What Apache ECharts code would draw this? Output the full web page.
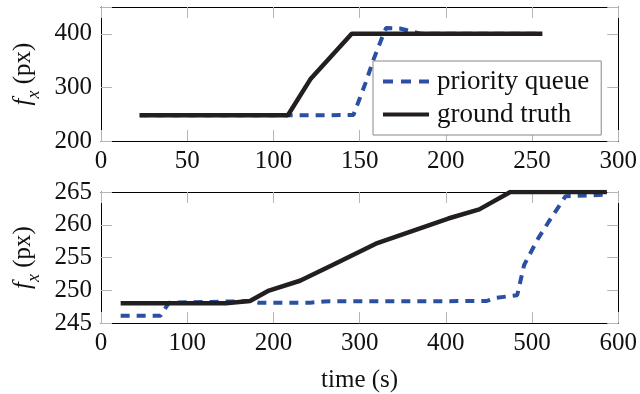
<!DOCTYPE html>
<html>
<head>
<meta charset="utf-8">
<script src="https://cdn.jsdelivr.net/npm/echarts@6/dist/echarts.min.js"></script>
<style>html,body{margin:0;padding:0;background:#fff}#c{width:640px;height:394px}</style>
</head>
<body>
<div id="c"></div>
<script>
// Top panel data [time (s), f_x (px)]
var topPriorityQueue = [[22.4,248],[108,248],[146.4,248.4],[153.4,308],[158.4,355],[163.4,396],[165.4,411],[173.4,410],[185.4,400],[200,400],[256,400]];
var topGroundTruth = [[22.4,248],[108.4,248],[121.4,315],[145.4,400],[256,400]];
// Bottom panel data
var bottomPriorityQueue = [[22.8,246.1],[68.8,246.1],[78.8,248.1],[174.8,248.35],[182.8,248.1],[242.8,248.1],[258.8,248.3],[446.8,248.35],[458.8,248.85],[482.8,249.25],[490.8,253.85],[506.8,257.85],[518.8,260.35],[538.8,264.35],[586.8,264.6]];
var bottomGroundTruth = [[22.8,248],[144.8,248],[172.8,248.35],[194.8,249.95],[230.8,251.45],[266.8,253.75],[318.8,257.1],[402.8,260.95],[438.8,262.35],[474.8,265],[586.8,265]];
// Axis ranges / ticks
var topX = {min:0, max:300, interval:50};
var topY = {min:200, max:450, interval:100, labels:[200,300,400]};
var botX = {min:0, max:600, interval:100};
var botY = {min:245, max:265, interval:5, labels:[245,250,255,260,265]};
var seriesNames = ['priority queue','ground truth'];

var FONT = 'Liberation Serif';
var BLUE = '#2b4fa3', BLACK = '#231f20', TICK = '#b5b5b5';
var fs = 25;

function xAx(grid, r, showLabel, pos, name){
  return {
    type:'value', gridIndex:grid, min:r.min, max:r.max, interval:r.interval, position:pos,
    axisLine:{show:true, onZero:false, lineStyle:{color:'#000', width:1}},
    axisTick:{show:true, inside:true, length:11, lineStyle:{color:TICK, width:1}},
    axisLabel:{show:showLabel, fontFamily:FONT, fontSize:fs, color:'#111', margin:8},
    splitLine:{show:false},
    name: name || '', nameLocation:'middle', nameGap:45,
    nameTextStyle:{fontFamily:FONT, fontSize:fs, color:'#111'}
  };
}
function yAx(grid, r, showLabel, pos, withName){
  return {
    type:'value', gridIndex:grid, min:r.min, max:r.max, interval:r.interval, position:pos,
    axisLine:{show:true, onZero:false, lineStyle:{color:'#000', width:1}},
    axisTick:{show:true, inside:true, length:11, lineStyle:{color:TICK, width:1}},
    axisLabel:{show:showLabel, fontFamily:FONT, fontSize:fs, color:'#111', margin:9,
      formatter:function(v){ return r.labels.indexOf(v) >= 0 ? String(v) : ''; }},
    splitLine:{show:false},
    name: withName ? '{f|f}{x|x}{t| (px)}' : '',
    nameLocation:'middle', nameGap:64, nameRotate:90,
    nameTextStyle:{fontFamily:FONT, fontSize:fs, color:'#111',
      rich:{
        f:{fontFamily:FONT, fontStyle:'italic', fontSize:fs, color:'#111'},
        x:{fontFamily:FONT, fontStyle:'italic', fontSize:18, color:'#111', verticalAlign:'bottom', padding:[0,0,-8,0]},
        t:{fontFamily:FONT, fontSize:fs, color:'#111'}
      }}
  };
}
function line(name, data, xi, yi, dashed){
  return {
    type:'line', name:name, data:data, xAxisIndex:xi, yAxisIndex:yi,
    symbol:'none', silent:true, animation:false,
    lineStyle: dashed ? {color:BLUE, width:4, type:[9,7], cap:'butt'} : {color:BLACK, width:4.5},
    itemStyle:{color: dashed ? BLUE : BLACK}
  };
}

var chart = echarts.init(document.getElementById('c'), null, {renderer:'canvas'});
chart.setOption({
  animation:false,
  backgroundColor:'#fff',
  grid:[
    {left:101, right:21, top:7, height:134},
    {left:101, right:21, top:192, height:133}
  ],
  xAxis:[
    xAx(0, topX, true, 'bottom'),
    xAx(0, topX, false, 'top'),
    xAx(1, botX, true, 'bottom', 'time (s)'),
    xAx(1, botX, false, 'top')
  ],
  yAxis:[
    yAx(0, topY, true, 'left', true),
    yAx(0, topY, false, 'right', false),
    yAx(1, botY, true, 'left', true),
    yAx(1, botY, false, 'right', false)
  ],
  legend:{
    show:true,
    orient:'vertical', left:373, top:61,
    padding:[7,12,7,10], itemGap:6,
    itemWidth:46, itemHeight:4,
    backgroundColor:'#fff', borderColor:'#888', borderWidth:1,
    textStyle:{fontFamily:FONT, fontSize:27, color:'#111', lineHeight:27, padding:[0,0,0,3]},
    selectedMode:false,
    data:[
      {name:seriesNames[0], icon:'path://M0,0h10v4h-10z M18,0h10v4h-10z M36,0h10v4h-10z', itemStyle:{color:BLUE, borderWidth:0}},
      {name:seriesNames[1], icon:'path://M0,0h46v4h-46z', itemStyle:{color:BLACK, borderWidth:0}}
    ]
  },
  series:[
    line(seriesNames[0], topPriorityQueue, 0, 0, true),
    line(seriesNames[1], topGroundTruth, 0, 0, false),
    line(seriesNames[0], bottomPriorityQueue, 2, 2, true),
    line(seriesNames[1], bottomGroundTruth, 2, 2, false)
  ]
});
</script>
</body>
</html>
